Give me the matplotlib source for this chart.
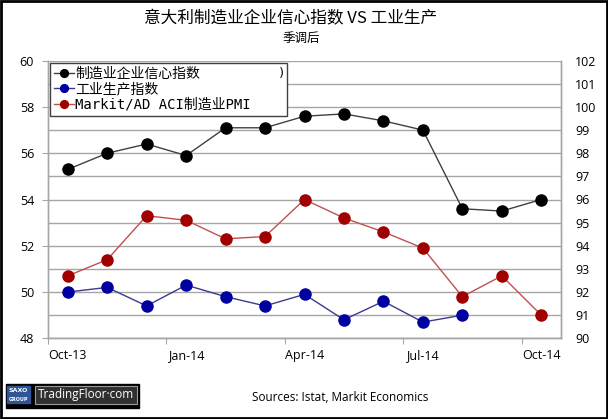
import matplotlib

matplotlib.use("Agg")
import matplotlib.pyplot as plt
from matplotlib.patches import Rectangle
from matplotlib.font_manager import FontProperties

# data (monthly, Oct-13 .. Oct-14)
months = ["Oct-13", "Nov-13", "Dec-13", "Jan-14", "Feb-14", "Mar-14", "Apr-14",
          "May-14", "Jun-14", "Jul-14", "Aug-14", "Sep-14", "Oct-14"]
confidence = [97.3, 98.0, 98.4, 97.9, 99.1, 99.1, 99.6, 99.7, 99.4, 99.0, 95.6, 95.5, 96.0]
industrial = [92.0, 92.2, 91.4, 92.3, 91.8, 91.4, 91.9, 90.8, 91.6, 90.7, 91.0]
pmi = [50.7, 51.4, 53.3, 53.1, 52.3, 52.4, 54.0, 53.2, 52.6, 51.9, 49.8, 50.7, 49.0]

left_ticks = [48, 50, 52, 54, 56, 58, 60]
right_ticks = list(range(90, 103))
label_idx = [0, 3, 6, 9, 12]

CJK = ["Noto Sans CJK SC", "DejaVu Sans"]
TICK_FONT = "Open Sans"
GRID = "#a6a6a6"

fig = plt.figure(figsize=(6.08, 4.19), dpi=100)
fig.patch.set_facecolor("white")

ax = fig.add_axes([48 / 608, 1 - 338.3 / 419, (561 - 48) / 608, (338.3 - 60.7) / 419])
ax2 = ax.twinx()

x_all = list(range(len(months)))

ax.set_xlim(-0.5, len(months) - 0.5)
ax.set_ylim(48, 60)
ax2.set_ylim(90, 102)

# gridlines follow the right axis (every 1 point)
ax2.set_yticks(right_ticks)
ax2.grid(axis="y", color=GRID, linewidth=1.0)
ax2.set_axisbelow(True)
ax.set_yticks(left_ticks)

l1, = ax2.plot(x_all, confidence, color="#404040", linewidth=1.0, marker="o",
               markersize=8, markerfacecolor="black", markeredgecolor="black",
               label="制造业企业信心指数")
l2, = ax2.plot(range(len(industrial)), industrial, color="#3a3a90", linewidth=1.0,
               marker="o", markersize=8, markerfacecolor="#0000a0",
               markeredgecolor="#0000a0", label="工业生产指数")
# PMI belongs to the left axis; ax2 shares x, left 48..60 == right 90..102
l3, = ax2.plot(x_all, [v + 42 for v in pmi], color="#c05050", linewidth=1.0, marker="o",
               markersize=8, markerfacecolor="#a00000", markeredgecolor="#a00000",
               label="Markit/AD ACI制造业PMI")

# x axis: tick marks between quarters, labels under Oct/Jan/Apr/Jul/Oct
ax.set_xticks([-0.5, 2.5, 5.5, 8.5, 11.5])
ax.set_xticklabels([])
ax.set_xticks(label_idx, minor=True)
ax.set_xticklabels([months[i] for i in label_idx], minor=True)
ax.tick_params(axis="x", which="major", length=4, color=GRID, direction="out")
ax.tick_params(axis="x", which="minor", length=0, pad=8)
ax.tick_params(axis="y", length=4, color=GRID, pad=6)
ax2.tick_params(axis="y", length=0, pad=10)

for lab in ax.get_xticklabels(minor=True) + ax.get_yticklabels() + ax2.get_yticklabels():
    lab.set_fontfamily(TICK_FONT)
    lab.set_fontsize(9)

for a in (ax, ax2):
    for s in a.spines.values():
        s.set_color(GRID)
        s.set_linewidth(1.0)
    a.spines["top"].set_visible(False)

leg_font = FontProperties(family=["DejaVu Sans Mono", "Noto Sans CJK SC"], size=10)
leg = ax2.legend(handles=[l1, l2, l3], loc="upper left", prop=leg_font,
                 bbox_to_anchor=(0.004, 0.5, 0.462, 0.493), mode="expand",
                 borderaxespad=0, handlelength=1.4, handletextpad=0.1,
                 labelspacing=0.1, borderpad=0.3, fancybox=False, framealpha=1,
                 edgecolor="#404040", markerscale=0.7)
leg.get_frame().set_linewidth(1.0)
fig.text(282 / 608, 1 - 73 / 419, ")", fontsize=9, family=["DejaVu Sans Mono"],
         ha="center", va="center")

fig.text(0.478, 1 - 19 / 419, "意大利制造业企业信心指数 VS 工业生产", family=CJK,
         fontsize=12, ha="center", va="center")
fig.text(0.495, 1 - 38 / 419, "季调后", family=CJK, fontsize=9, ha="center", va="center")

# footer: logo block and source
H = 419.0
fig.patches.append(Rectangle((6 / 608, 1 - 408 / H), 133 / 608, 24 / H,
                             transform=fig.transFigure, color="black"))
fig.patches.append(Rectangle((7 / 608, 1 - 403 / H), 23 / 608, 17 / H,
                             transform=fig.transFigure, color="#2f5597"))
fig.text(18.5 / 608, 1 - 390 / H, "SAXO", color="white", fontsize=4.5,
         fontweight="bold", ha="center", va="center")
fig.text(18.5 / 608, 1 - 399 / H, "GROUP", color="white", fontsize=3.5,
         fontweight="bold", ha="center", va="center")
fig.patches.append(Rectangle((35 / 608, 1 - 404 / H), 102 / 608, 18 / H,
                             transform=fig.transFigure, facecolor="#303030",
                             edgecolor="#9a9a9a", linewidth=0.8))
fig.text(86 / 608, 1 - 394 / H, "TradingFloor·com", color="white", fontsize=8.5,
         family="Open Sans", ha="center", va="center")
fig.text(340 / 608, 1 - 397 / H, "Sources: Istat, Markit Economics", fontsize=8.5,
         family=TICK_FONT, ha="center", va="center")

# outer border
fig.patches.append(Rectangle((0.001, 0.002), 0.997, 0.996, transform=fig.transFigure,
                             fill=False, edgecolor="black", linewidth=2))

fig.savefig("out.png", dpi=100)
